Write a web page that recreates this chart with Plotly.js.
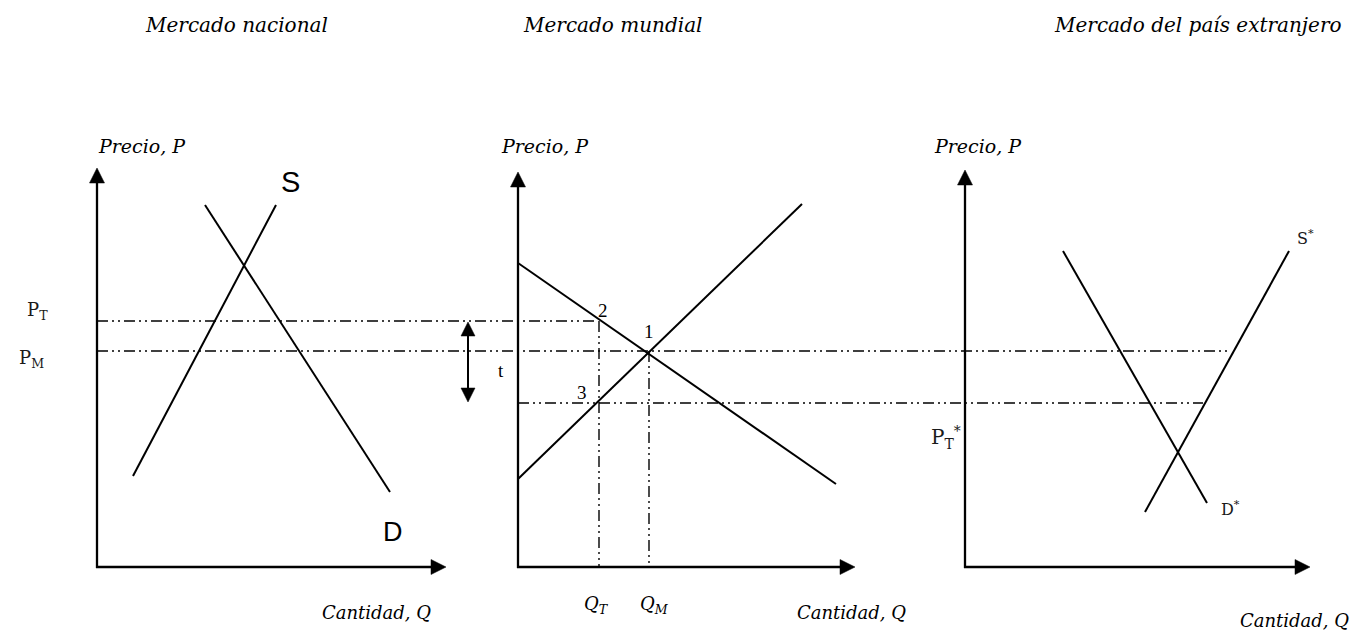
<!DOCTYPE html>
<html>
<head>
<meta charset="utf-8">
<script src="https://cdn.plot.ly/plotly-3.0.1.min.js"></script>
<style>html,body{margin:0;padding:0;background:#fff;}#chart{width:1356px;height:631px;}</style>
</head>
<body>
<div id="chart"></div>
<script>
// ---- Diagram data (diagram coordinates: x to the right, y downward) ----
const axisOriginX = [97, 518, 965];
const axisOriginY = [567, 567, 567];
const axisTopY = [168, 172, 170];
const axisRightX = [446, 855, 1310];

// Curves
const homeSupplyX = [133, 276];
const homeSupplyY = [476, 205];
const homeDemandX = [205, 390];
const homeDemandY = [205, 492];
const worldExportSupplyX = [518, 802];
const worldExportSupplyY = [479, 204];
const worldImportDemandX = [518, 836];
const worldImportDemandY = [263, 484];
const foreignDemandX = [1063, 1207];
const foreignDemandY = [251, 503];
const foreignSupplyX = [1145, 1289];
const foreignSupplyY = [512, 251];

// Dash-dot reference lines
const tariffPriceX = [97, 598];
const tariffPriceY = [321, 321];
const worldPriceX = [97, 1231];
const worldPriceY = [351, 351];
const foreignPriceX = [518, 1203];
const foreignPriceY = [403, 403];
const qTariffX = [599, 599];
const qTariffY = [321, 567];
const qWorldX = [649, 649];
const qWorldY = [351, 567];

// Tariff double arrow
const tariffArrowX = [468, 468];
const tariffArrowY = [322, 402];

// Labels
const panelTitles = ["Mercado nacional", "Mercado mundial", "Mercado del país extranjero"];
const panelTitleX = [236, 612, 1344];
const priceLabelX = [142, 545, 978];
const quantityLabelX = [376, 851, 1294];
const quantityLabelY = [612, 612, 620];

const solid = {color: '#000', width: 2};
const axisLine = {color: '#000', width: 2.3};
const dashdot = {color: '#000', width: 1.4, dash: '11px,4px,2px,4px,2px,4px'};

function seg(x, y, line) {
  return {x: x, y: y, mode: 'lines', line: line, hoverinfo: 'skip', showlegend: false, type: 'scatter'};
}
// filled triangular arrow head with tip at (tx,ty), pointing in direction (dx,dy)
function head(tx, ty, dx, dy, len, halfW) {
  const bx = tx - dx * len, by = ty - dy * len;
  const px = -dy, py = dx;
  return {
    x: [tx, bx + px * halfW, bx - px * halfW, tx],
    y: [ty, by + py * halfW, by - py * halfW, ty],
    mode: 'lines', fill: 'toself', fillcolor: '#000', line: {color: '#000', width: 0.5},
    hoverinfo: 'skip', showlegend: false, type: 'scatter'
  };
}

const headLen = 15, headHalf = 7.5;
const traces = [];
for (let i = 0; i < 3; i++) {
  traces.push(seg([axisOriginX[i], axisOriginX[i]], [axisOriginY[i] + 1, axisTopY[i] + headLen - 2], axisLine));
  traces.push(seg([axisOriginX[i] - 1, axisRightX[i] - headLen + 2], [axisOriginY[i], axisOriginY[i]], axisLine));
  traces.push(head(axisOriginX[i], axisTopY[i], 0, -1, headLen, headHalf));
  traces.push(head(axisRightX[i], axisOriginY[i], 1, 0, headLen, headHalf));
}
traces.push(
  seg(homeSupplyX, homeSupplyY, solid),
  seg(homeDemandX, homeDemandY, solid),
  seg(worldExportSupplyX, worldExportSupplyY, solid),
  seg(worldImportDemandX, worldImportDemandY, solid),
  seg(foreignDemandX, foreignDemandY, solid),
  seg(foreignSupplyX, foreignSupplyY, solid),
  seg(tariffPriceX, tariffPriceY, dashdot),
  seg(worldPriceX, worldPriceY, dashdot),
  seg(foreignPriceX, foreignPriceY, dashdot),
  seg(qTariffX, qTariffY, dashdot),
  seg(qWorldX, qWorldY, dashdot)
);
traces.push(seg(tariffArrowX, [tariffArrowY[0] + 12, tariffArrowY[1] - 12], {color: '#000', width: 2}));
traces.push(head(tariffArrowX[0], tariffArrowY[0], 0, -1, 14, 7));
traces.push(head(tariffArrowX[1], tariffArrowY[1], 0, 1, 14, 7));

const annotations = [];
function label(text, x, y, font, anchor) {
  annotations.push({x: x, y: y, xref: 'x', yref: 'y', text: text, showarrow: false,
    xanchor: anchor || 'center', yanchor: 'middle', font: Object.assign({color: '#000'}, font)});
}
const titleFont = {family: 'DejaVu Serif', size: 20, style: 'italic'};
const priceFont = {family: 'DejaVu Serif', size: 19, style: 'italic'};
const qtyFont = {family: 'DejaVu Serif', size: 18, style: 'italic'};
const markFont = {family: 'Liberation Serif', size: 19};
const starFont = {family: 'DejaVu Serif', size: 16, color: '#1a1a1a'};
const pFont = {family: 'DejaVu Serif', size: 18, color: '#1a1a1a'};

label(panelTitles[0], panelTitleX[0], 25, titleFont);
label(panelTitles[1], panelTitleX[1], 25, titleFont);
label(panelTitles[2], panelTitleX[2], 25, titleFont, 'right');
for (let i = 0; i < 3; i++) {
  label('Precio, P', priceLabelX[i], 146, priceFont);
  label('Cantidad, Q', quantityLabelX[i], quantityLabelY[i], qtyFont);
}
label('Q<sub>T</sub>', 596, 605, qtyFont);
label('Q<sub>M</sub>', 654, 605, qtyFont);
label('S', 290, 182, {family: 'Liberation Sans', size: 29});
label('D', 393, 532, {family: 'Liberation Sans', size: 27});
label('S<sup>*</sup>', 1305, 237, starFont);
label('D<sup>*</sup>', 1230, 508, starFont);
label('P<sub>T</sub>', 37, 311, pFont);
label('P<sub>M</sub>', 31, 359, pFont);
label('P<sub>T</sub><sup>*</sup>', 946, 437, {family: 'DejaVu Serif', size: 20, color: '#1a1a1a'});
label('2', 603, 310, markFont);
label('1', 649, 331, markFont);
label('3', 582, 392, markFont);
label('t', 501, 370, markFont);

const layout = {
  width: 1356, height: 631,
  margin: {l: 0, r: 0, t: 0, b: 0},
  paper_bgcolor: '#fff', plot_bgcolor: '#fff',
  xaxis: {range: [0, 1356], visible: false, fixedrange: true},
  yaxis: {range: [631, 0], visible: false, fixedrange: true},
  showlegend: false,
  annotations: annotations
};
Plotly.newPlot('chart', traces, layout, {staticPlot: true, displayModeBar: false});
</script>
</body>
</html>
